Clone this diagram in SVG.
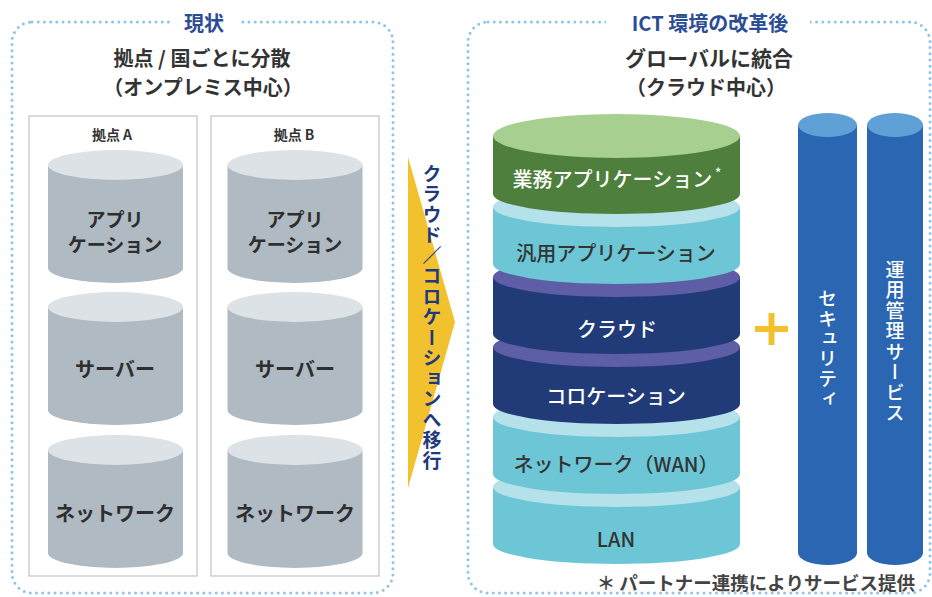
<svg xmlns="http://www.w3.org/2000/svg" xmlns:xlink="http://www.w3.org/1999/xlink" width="932" height="597" viewBox="0 0 932 597">
<style>
text{font-family:"Noto Sans CJK JP","Noto Sans",sans-serif;dominant-baseline:central;text-anchor:middle}
.panel{fill:#ffffff;stroke:#8ec5ec;stroke-width:3;stroke-dasharray:0 6.2;stroke-linecap:round}
.title{font-size:20px;font-weight:700;fill:#2b4d96}
.sub{font-size:20px;font-weight:700;fill:#333333}
.box{fill:#ffffff;stroke:#cfcfcf;stroke-width:1.5}
.boxlbl{font-size:14px;font-weight:700;fill:#333333}
.cylbody{fill:#afbac3}
.cyltop{fill:#dde2e6}
.cyl{font-size:20px;font-weight:700;fill:#2e2e2e}
.cyl2{font-size:19px;font-weight:700;fill:#2e2e2e}
.stk{font-size:20px;font-weight:500}
.w{fill:#ffffff}
.d{fill:#333333}
.vert{writing-mode:vertical-rl}
.coltop{fill:#5fa1d7}
.colbody{fill:#2a66b1}
</style>
<defs>
<g id="cyl">
<path class="cylbody" d="M-67.5,0 V103 A67.5,15 0 0 0 67.5,103 V0 Z"/>
<ellipse class="cyltop" cx="0" cy="0" rx="67.5" ry="15"/>
</g>
</defs>
<rect width="932" height="597" fill="#ffffff"/>

<g id="panel-current">
<rect class="panel" x="12" y="22" width="381" height="571" rx="20"/>
<rect x="172" y="10" width="66" height="24" fill="#ffffff"/>
<text class="title" x="204" y="22">現状</text>
<text class="sub" x="202" y="57">拠点 / 国ごとに分散</text>
<text class="sub" x="203" y="86">（オンプレミス中心）</text>
</g>

<g id="site-a">
<rect class="box" x="29" y="116" width="168" height="460"/>
<text class="boxlbl" x="112" y="134">拠点 A</text>
<g id="site-a-app"><use xlink:href="#cyl" x="115.5" y="165"/><text class="cyl2" x="115" y="218">アプリ</text><text class="cyl2" x="115" y="243">ケーション</text></g>
<g id="site-a-server"><use xlink:href="#cyl" x="115.5" y="307"/><text class="cyl" x="115" y="368">サーバー</text></g>
<g id="site-a-network"><use xlink:href="#cyl" x="115.5" y="450"/><text class="cyl" x="115" y="512">ネットワーク</text></g>
</g>

<g id="site-b">
<rect class="box" x="211" y="116" width="168" height="460"/>
<text class="boxlbl" x="294" y="134">拠点 B</text>
<g id="site-b-app"><use xlink:href="#cyl" x="295" y="165"/><text class="cyl2" x="295" y="218">アプリ</text><text class="cyl2" x="295" y="243">ケーション</text></g>
<g id="site-b-server"><use xlink:href="#cyl" x="295" y="307"/><text class="cyl" x="295" y="368">サーバー</text></g>
<g id="site-b-network"><use xlink:href="#cyl" x="295" y="450"/><text class="cyl" x="295" y="512">ネットワーク</text></g>
</g>

<g id="panel-after">
<rect class="panel" x="468" y="22" width="462" height="571" rx="20"/>
<rect x="606" y="10" width="204" height="24" fill="#ffffff"/>
<text class="title" x="710" y="22">ICT 環境の改革後</text>
<text class="sub" x="709" y="57" style="font-size:21px">グローバルに統合</text>
<text class="sub" x="706" y="86">（クラウド中心）</text>
</g>

<g id="connectors">
<polygon points="408,157 455,322 408,488" fill="#f2c12e"/>
<text class="vert" x="432" y="318" style="font-size:19px;font-weight:700;fill:#1f3a7a;letter-spacing:1.5px">クラウド／コロケーションへ移行</text>
</g>

<g id="stack">
<g id="layer-lan">
<path d="M493,487 V544 A123.5,20 0 0 0 740,544 V487 Z" fill="#6cc6d6"/>
<ellipse cx="616.5" cy="487" rx="123.5" ry="20" fill="#b5e1ea"/>
<text class="stk d" x="616" y="538">LAN</text>
</g>
<g id="layer-wan">
<path d="M493,417 V474 A123.5,20 0 0 0 740,474 V417 Z" fill="#6cc6d6"/>
<ellipse cx="616.5" cy="417" rx="123.5" ry="20" fill="#b5e1ea"/>
<text class="stk d" x="616" y="463">ネットワーク（WAN）</text>
</g>
<g id="layer-colocation">
<path d="M493,347 V404 A123.5,20 0 0 0 740,404 V347 Z" fill="#213b79"/>
<ellipse cx="616.5" cy="347" rx="123.5" ry="20" fill="#5e5ea6"/>
<text class="stk w" x="616" y="395">コロケーション</text>
</g>
<g id="layer-cloud">
<path d="M493,277 V334 A123.5,20 0 0 0 740,334 V277 Z" fill="#213b79"/>
<ellipse cx="616.5" cy="277" rx="123.5" ry="20" fill="#5e5ea6"/>
<text class="stk w" x="617" y="328">クラウド</text>
</g>
<g id="layer-generic-app">
<path d="M493,207 V264 A123.5,20 0 0 0 740,264 V207 Z" fill="#6cc6d6"/>
<ellipse cx="616.5" cy="207" rx="123.5" ry="20" fill="#b5e1ea"/>
<text class="stk d" x="616" y="252">汎用アプリケーション</text>
</g>
<g id="layer-business-app">
<path d="M493,136 V194 A123.5,20 0 0 0 740,194 V136 Z" fill="#4e7f3c"/>
<ellipse cx="616.5" cy="136" rx="123.5" ry="22" fill="#a6cf90"/>
<text class="stk w" x="617" y="178">業務アプリケーション<tspan style="font-size:13px" dy="-6"> *</tspan></text>
</g>
</g>

<g id="plus">
<rect x="755" y="326" width="33" height="6" fill="#f2c12e"/>
<rect x="768.5" y="313" width="6" height="32" fill="#f2c12e"/>
</g>

<g id="col-security">
<path class="colbody" d="M798,125 V553 A29.5,12 0 0 0 857,553 V125 Z"/>
<ellipse class="coltop" cx="827.5" cy="125" rx="29.5" ry="12"/>
<text class="vert" x="827.5" y="349" style="font-size:19px;font-weight:500;fill:#ffffff;letter-spacing:1px">セキュリティ</text>
</g>

<g id="col-operation">
<path class="colbody" d="M867,125 V553 A28,12 0 0 0 923,553 V125 Z"/>
<ellipse class="coltop" cx="895" cy="125" rx="28" ry="12"/>
<text class="vert" x="895" y="342" style="font-size:19px;font-weight:500;fill:#ffffff;letter-spacing:1.5px">運用管理サービス</text>
</g>

<g id="footnote">
<text x="915" y="582" style="text-anchor:end;font-size:18.5px;font-weight:700;fill:#444444">＊ パートナー連携によりサービス提供</text>
</g>
</svg>
